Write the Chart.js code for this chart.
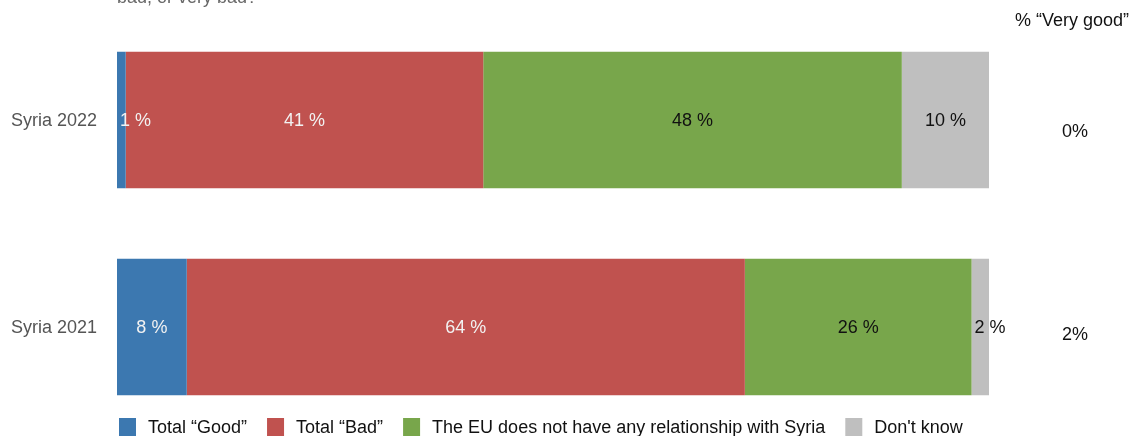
<!DOCTYPE html>
<html>
<head>
<meta charset="utf-8">
<script src="https://cdn.jsdelivr.net/npm/chart.js@4.4.1/dist/chart.umd.min.js"></script>
<style>
  html, body { margin: 0; padding: 0; background: #fff; }
  #wrap { position: relative; width: 1138px; height: 436px; overflow: hidden; }
</style>
</head>
<body>
<div id="wrap"><canvas id="chart" width="1138" height="436"></canvas></div>
<script>
const categories = ['Syria 2022', 'Syria 2021'];
const seriesNames = ['Total \u201cGood\u201d', 'Total \u201cBad\u201d', 'The EU does not have any relationship with Syria', "Don't know"];
const goodValues = [1, 8];
const badValues = [41, 64];
const noRelationValues = [48, 26];
const dontKnowValues = [10, 2];
const veryGoodValues = [0, 2];
const veryGoodHeader = '% \u201cVery good\u201d';
const questionTail = 'bad, or very bad?';

const colors = ['#3c78b0', '#c0524f', '#78a64b', '#bfbfbf'];
const labelColors = ['#f2f2f2', '#f2f2f2', '#111', '#111'];
const FONT = '"Liberation Sans", Arial, Helvetica, sans-serif';

const seriesValues = [goodValues, badValues, noRelationValues, dontKnowValues];

// category names, segment labels, right column, question tail and legend
const overlay = {
  id: 'overlay',
  afterDatasetsDraw(chart) {
    const ctx = chart.ctx;
    const yScale = chart.scales.y;
    ctx.save();
    ctx.font = '18px ' + FONT;
    ctx.textBaseline = 'middle';

    ctx.fillStyle = '#555';
    ctx.textAlign = 'right';
    categories.forEach((c, i) => ctx.fillText(c, 97, yScale.getPixelForValue(i) + 1));

    chart.data.datasets.forEach((ds, di) => {
      chart.getDatasetMeta(di).data.forEach((bar, i) => {
        const txt = ds.data[i] + ' %';
        const left = Math.min(bar.base, bar.x);
        const w = Math.abs(bar.x - bar.base);
        const tw = ctx.measureText(txt).width;
        ctx.fillStyle = labelColors[di];
        if (tw + 4 > w) {
          ctx.textAlign = 'left';
          ctx.fillText(txt, left + 3, bar.y + 1);
        } else {
          ctx.textAlign = 'center';
          ctx.fillText(txt, left + w / 2, bar.y + 1);
        }
      });
    });

    // "% Very good" column
    ctx.fillStyle = '#111';
    ctx.textAlign = 'center';
    ctx.fillText(veryGoodHeader, 1072, 21);
    const rowShift = [12.5, 8];
    veryGoodValues.forEach((v, i) => {
      ctx.fillText(v + '%', 1075, yScale.getPixelForValue(i) + rowShift[i]);
    });

    // tail of the question, cut by the top edge
    ctx.fillStyle = '#666';
    ctx.textAlign = 'left';
    ctx.textBaseline = 'alphabetic';
    ctx.fillText(questionTail, 117, 3);

    // legend
    ctx.textBaseline = 'middle';
    let x = 119;
    seriesNames.forEach((name, i) => {
      ctx.fillStyle = colors[i];
      ctx.fillRect(x, 418, 17, 20);
      ctx.fillStyle = '#111';
      ctx.fillText(name, x + 29, 428);
      x += 29 + ctx.measureText(name).width + 20;
    });
    ctx.restore();
  }
};

new Chart(document.getElementById('chart'), {
  type: 'bar',
  data: {
    labels: categories,
    datasets: seriesValues.map((vals, i) => ({
      label: seriesNames[i],
      data: vals,
      backgroundColor: colors[i],
      borderWidth: 0,
      categoryPercentage: 1,
      barPercentage: 0.66
    }))
  },
  options: {
    indexAxis: 'y',
    responsive: false,
    animation: false,
    layout: { padding: { top: 16.5, bottom: 5.5, left: 117, right: 149 } },
    plugins: { legend: { display: false }, tooltip: { enabled: false } },
    scales: {
      x: { stacked: true, min: 0, max: 100, display: false },
      y: { stacked: true, display: false }
    }
  },
  plugins: [overlay]
});
</script>
</body>
</html>
